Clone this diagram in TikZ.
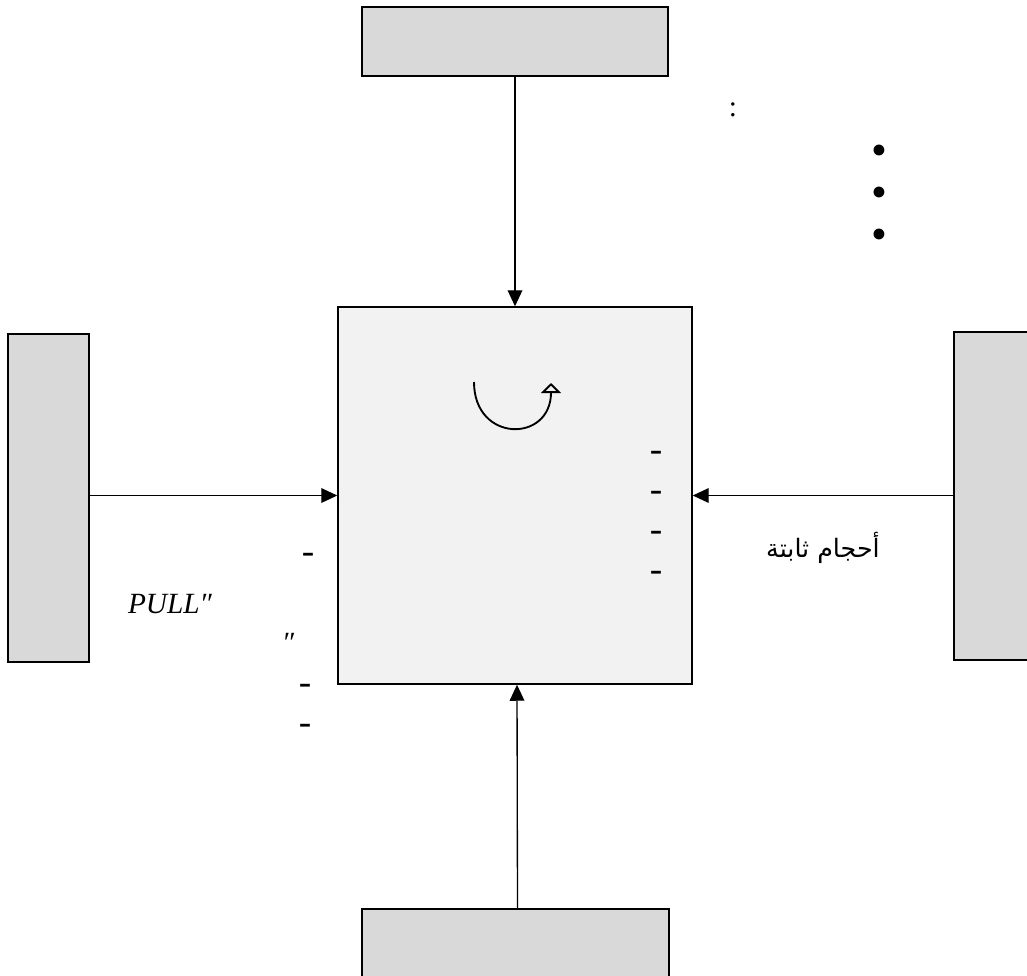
\documentclass[tikz,border=0pt]{standalone}
\usepackage{fontspec}
\setmainfont{Liberation Serif}
\newfontfamily\arabicfont[Script=Arabic]{DejaVu Sans}
\TeXXeTstate=1
\usetikzlibrary{arrows.meta}
\definecolor{blockgray}{HTML}{D9D9D9}
\definecolor{coregray}{HTML}{F2F2F2}
\begin{document}
\begin{tikzpicture}[x=0.75pt,y=-0.75pt,
  block/.style={draw=black,fill=blockgray,line width=1.1pt,inner sep=0pt},
  core/.style={draw=black,fill=coregray,line width=1.1pt,inner sep=0pt},
  flow/.style={-{Triangle[length=12pt,width=11pt]},line width=1pt},
  txt/.style={inner sep=0pt,font=\fontsize{22}{26}\selectfont},
  dashmark/.style={inner sep=0pt,anchor=base,font=\fontsize{28}{32}\selectfont}]
\useasboundingbox (0,0) rectangle (1027,975);
\clip (0,0) rectangle (1027,975);
% four outer blocks round the central one
\node[block,minimum width=229.5pt,minimum height=51.75pt] (top) at (515,41.5) {};
\node[block,minimum width=230.25pt,minimum height=52.5pt] (bottom) at (515.5,944) {};
\node[block,minimum width=60.75pt,minimum height=246pt] (left) at (48.5,498) {};
\node[block,minimum width=67.5pt,minimum height=246pt] (right) at (999,496) {};
\node[core,minimum width=265.5pt,minimum height=282.75pt] (centre) at (515,495.5) {};

% flows into the centre
\draw[flow] (top.south) -- (centre.north);
\draw[flow] ([xshift=1.5pt]bottom.north) -- ([xshift=1.5pt]centre.south);
\draw[flow] (left.east |- centre.west) -- (centre.west);
\draw[flow] (right.west |- centre.east) -- (centre.east);

% turning arrow inside the centre
\draw[-{Triangle[open,length=7.5pt,width=15pt]},line width=1.4pt]
  (474,382) .. controls (474,443) and (551,443) .. (551,383);

% marks and labels
\node[txt] (colonmark) at (733,110) {:};
\foreach \y [count=\i] in {150,192,234} {\node[txt,font=\fontsize{34}{36}\selectfont] (bul\i) at (879,\y+5) {•};}
\foreach \y [count=\i] in {452,492,532,572} {\node[dashmark] (dashr\i) at (656,\y+9) {-};}
\node[dashmark] (dashl1) at (308,554+9) {-};
\node[dashmark] (dashl2) at (305,685+9) {-};
\node[dashmark] (dashl3) at (305,725+9) {-};
\node[txt,anchor=base] (pulltxt) at (170,613) {\itshape PULL″};
\node[txt,anchor=base] (quotetxt) at (288,652) {\itshape ″};
\node[inner sep=0pt,font=\arabicfont\fontsize{19}{22}\selectfont] (volumetxt) at (823,548) {\beginR أحجام ثابتة\endR};
\end{tikzpicture}
\end{document}
